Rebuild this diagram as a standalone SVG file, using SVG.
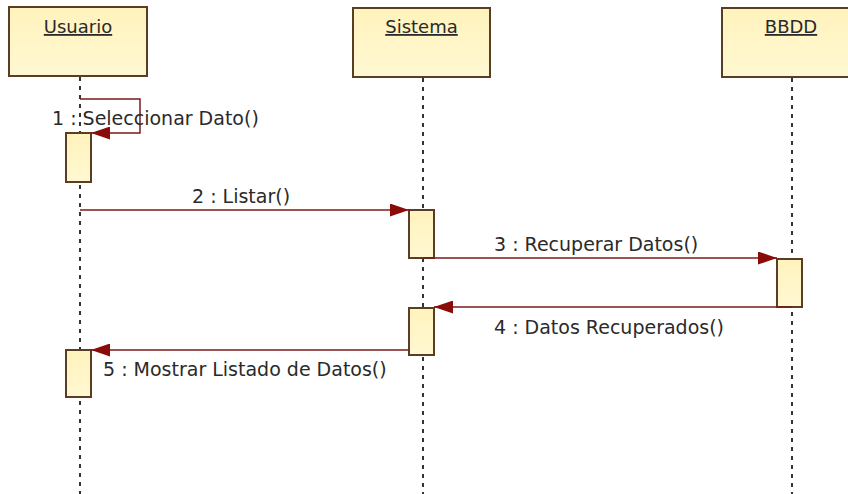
<svg xmlns="http://www.w3.org/2000/svg" width="848" height="494" viewBox="0 0 848 494">
<style>
.head{fill:url(#yel);stroke:#5a3d22;stroke-width:2}
.act{fill:url(#yel);stroke:#5a3d22;stroke-width:2}
.life{stroke:#333;stroke-width:2;stroke-dasharray:4 5;fill:none}
.msg{stroke:#7a1a1a;stroke-width:1.5;fill:none;marker-end:url(#arr)}
.t{font-family:"DejaVu Sans",Verdana,sans-serif;font-size:19px;fill:#2a2a2a}
.h{font-family:"DejaVu Sans",Verdana,sans-serif;font-size:18px;fill:#2a2a2a;text-anchor:middle;text-decoration:underline}
</style>
<defs>
<linearGradient id="yel" x1="0" y1="0" x2="0" y2="1">
<stop offset="0" stop-color="#fff3bd"/>
<stop offset="1" stop-color="#fff8d2"/>
</linearGradient>
<marker id="arr" markerUnits="userSpaceOnUse" markerWidth="19" markerHeight="13" refX="19" refY="6.5" orient="auto">
<path d="M0,0 L19,6.5 L0,13 z" fill="#8b0a0a"/>
</marker>
</defs>
<rect width="848" height="494" fill="#fff"/>
<g id="usuario">
<rect class="head" x="9" y="7" width="138" height="69"/>
<text class="h" x="78" y="33">Usuario</text>
<line class="life" x1="80" y1="77" x2="80" y2="494"/>
<rect class="act" x="66" y="133" width="25" height="49"/>
<rect class="act" x="66" y="350" width="25" height="47"/>
</g>
<g id="sistema">
<rect class="head" x="353" y="8" width="137" height="69"/>
<text class="h" x="421.5" y="33">Sistema</text>
<line class="life" x1="423" y1="78" x2="423" y2="494"/>
<rect class="act" x="409" y="210" width="25" height="48"/>
<rect class="act" x="409" y="308" width="25" height="47"/>
</g>
<g id="bbdd">
<rect class="head" x="722" y="8" width="138" height="69"/>
<text class="h" x="791" y="33">BBDD</text>
<line class="life" x1="792" y1="78" x2="792" y2="494"/>
<rect class="act" x="777" y="259" width="25" height="48"/>
</g>
<g id="connectors">
<path class="msg" d="M80,99 H140 V133 H91"/>
<path class="msg" d="M80,210 H409"/>
<path class="msg" d="M423,258 H777"/>
<path class="msg" d="M792,307 H434"/>
<path class="msg" d="M409,350 H91"/>
<text class="t" x="52" y="125">1 : Seleccionar Dato()</text>
<text class="t" x="192" y="203">2 : Listar()</text>
<text class="t" x="494" y="251">3 : Recuperar Datos()</text>
<text class="t" x="494" y="334">4 : Datos Recuperados()</text>
<text class="t" x="103" y="376">5 : Mostrar Listado de Datos()</text>
</g>
</svg>
